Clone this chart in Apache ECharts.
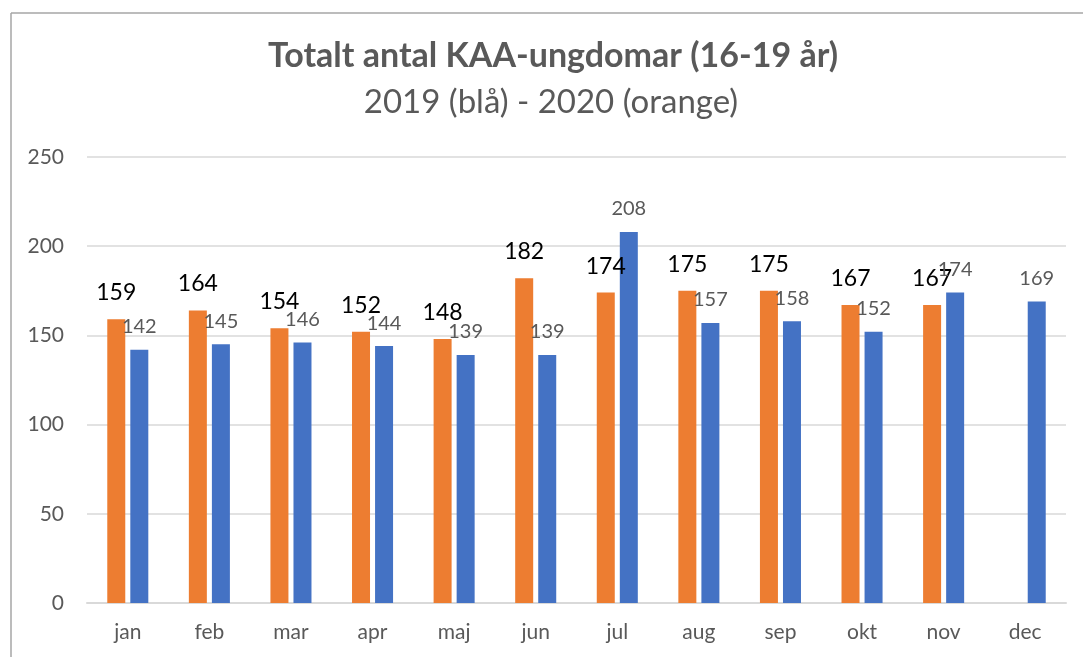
<!DOCTYPE html>
<html>
<head>
<meta charset="utf-8">
<script src="https://cdn.jsdelivr.net/npm/echarts@6/dist/echarts.min.js"></script>
<style>
html,body{margin:0;padding:0;background:#fff;}
#c{width:1083px;height:657px;}
</style>
</head>
<body>
<div id="c"></div>
<script>
const categories = ['jan','feb','mar','apr','maj','jun','jul','aug','sep','okt','nov','dec'];
const values2020 = [159,164,154,152,148,182,174,175,175,167,167,null];
const values2019 = [142,145,146,144,139,139,208,157,158,152,174,169];
const titleText = 'Totalt antal KAA-ungdomar (16-19 år)';
const subtitleText = '2019 (blå) - 2020 (orange)';

const FONT = 'Lato, "Open Sans", sans-serif';
const chart = echarts.init(document.getElementById('c'), null, {renderer:'canvas'});
chart.setOption({
  animation:false,
  backgroundColor:'#fff',
  textStyle:{fontFamily:FONT},
  title:[
    {text:titleText, left:548, top:34, textAlign:'center',
     textStyle:{fontFamily:FONT, fontSize:34, fontWeight:'bold', color:'#595959'}},
    {text:subtitleText, left:546, top:81, textAlign:'center',
     textStyle:{fontFamily:FONT, fontSize:33, fontWeight:'normal', color:'#595959'}}
  ],
  graphic:[
    {type:'line', shape:{x1:11,y1:13,x2:1090,y2:13}, style:{stroke:'#a6a6a6', lineWidth:1.5}},
    {type:'line', shape:{x1:11,y1:13,x2:11,y2:670}, style:{stroke:'#a6a6a6', lineWidth:1.5}}
  ],
  grid:{left:87, right:17, top:157, bottom:54},
  xAxis:{type:'category', data:categories,
    axisLine:{show:true, lineStyle:{color:'#d9d9d9', width:2}},
    axisTick:{show:false},
    axisLabel:{color:'#595959', fontSize:21, margin:19, fontFamily:FONT}},
  yAxis:{type:'value', min:0, max:250, interval:50,
    axisLine:{show:false}, axisTick:{show:false},
    axisLabel:{color:'#595959', fontSize:21, margin:23, fontFamily:FONT},
    splitLine:{lineStyle:{color:'#d9d9d9', width:1.5}}},
  series:[
    {name:'2020', type:'bar', data:values2020, barWidth:18, barGap:'28%',
     itemStyle:{color:'#ED7D31'},
     label:{show:true, position:'top', distance:15, color:'#000', fontSize:23, fontFamily:FONT}},
    {name:'2019', type:'bar', data:values2019, barWidth:18,
     itemStyle:{color:'#4472C4'},
     label:{show:true, position:'top', distance:13, color:'#595959', fontSize:20, fontFamily:FONT}}
  ]
});
</script>
</body>
</html>
